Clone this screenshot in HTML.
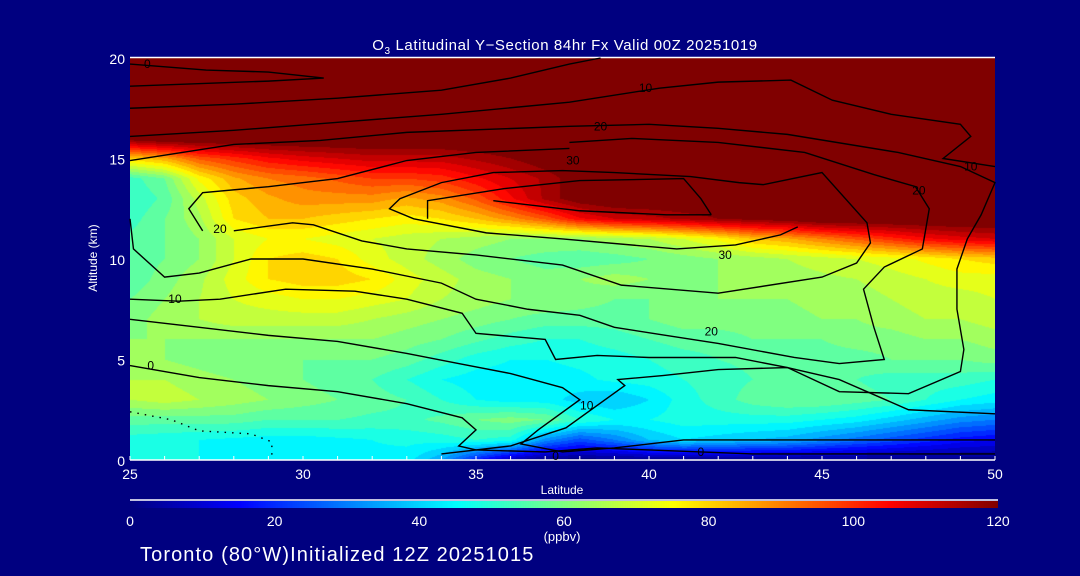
<!DOCTYPE html>
<html><head><meta charset="utf-8">
<style>
body{margin:0;background:#000080;width:1080px;height:576px;overflow:hidden;font-family:"Liberation Sans",sans-serif;}
#root{position:relative;width:1080px;height:576px;background:#000080;}
svg text{fill:#fff;font-family:"Liberation Sans",sans-serif;}
</style></head>
<body>
<div id="root">
<canvas id="heat" width="865" height="402" style="position:absolute;left:130px;top:58px"></canvas>
<canvas id="cbar" width="868" height="7" style="position:absolute;left:130px;top:501px"></canvas>
<svg id="ov" width="1080" height="576" style="position:absolute;left:0;top:0">
<text x="565" y="50" font-size="15" text-anchor="middle" letter-spacing="0.6">O<tspan font-size="10" dy="4">3</tspan><tspan dy="-4"> Latitudinal Y−Section 84hr  Fx Valid 00Z 20251019</tspan></text>
<text x="97" y="258" font-size="12" text-anchor="middle" transform="rotate(-90 97 258)">Altitude (km)</text>
<text x="562" y="494" font-size="12" text-anchor="middle">Latitude</text>
<text x="562" y="541" font-size="13" text-anchor="middle">(ppbv)</text>
<text x="140" y="561" font-size="20" letter-spacing="1.1">Toronto (80°W)Initialized 12Z 20251015</text>
<g id="axes"></g>
<g id="contours"></g>
</svg>
</div>
<script>
const lats=[25,26,27,28,29,30,31,32,33,34,35,36,37,38,39,40,41,42,43,44,45,46,47,48,49,50];
const alts=[0,1,2,3,4,5,6,7,8,9,10,11,12,13,14,15,16,17,18,19,20];
const o3_0=[46,46,46,46,45,45,45,45,44,34,18,6,0,0,0,0,0,0,0,0,0,0,0,0,0,0];
const o3_1=[48,47,46,45,44,44,45,46,47,48,50,48,32,24,30,38,42,40,38,36,32,28,24,20,16,14];
const o3_2=[56,56,56,56,54,54,54,53,53,55,58,60,58,50,46,46,48,48,48,48,46,44,40,36,32,30];
const o3_3=[66,68,66,64,62,60,58,56,54,50,46,44,44,40,38,42,48,52,56,58,58,56,54,50,46,44];
const o3_4=[66,66,64,62,60,58,56,54,50,46,44,44,44,45,47,48,50,52,54,56,56,54,52,52,52,50];
const o3_5=[64,62,60,58,58,58,58,58,56,52,48,46,46,47,48,50,52,54,55,55,56,56,58,58,58,60];
const o3_6=[62,62,62,62,62,62,62,62,60,58,55,52,50,50,52,54,56,56,58,58,58,60,60,62,62,64];
const o3_7=[60,64,66,68,68,68,68,66,64,62,60,58,56,56,56,58,60,60,60,60,62,62,64,66,66,68];
const o3_8=[58,62,66,70,72,74,74,72,70,66,64,62,62,60,58,58,60,62,62,62,64,64,66,68,68,70];
const o3_9=[55,60,65,72,78,80,80,78,72,68,64,62,60,62,64,62,60,62,64,64,65,66,68,70,72,72];
const o3_10=[55,58,62,70,78,80,78,72,68,64,60,58,56,55,56,58,60,62,64,66,68,70,72,75,78,80];
const o3_11=[55,58,62,70,74,74,72,70,68,66,64,62,62,62,64,66,70,75,82,85,90,95,100,105,108,110];
const o3_12=[52,58,65,78,82,82,80,78,76,78,82,88,95,105,110,112,115,118,120,122,125,125,125,125,125,125];
const o3_13=[50,55,68,80,85,88,88,88,85,88,95,105,115,122,125,125,125,125,125,125,125,125,125,125,125,125];
const o3_14=[52,58,75,85,90,92,95,98,98,100,105,110,115,122,125,125,125,125,125,125,125,125,125,125,125,125];
const o3_15=[80,85,95,100,105,108,110,112,112,112,115,118,122,125,125,125,125,125,125,125,125,125,125,125,125,125];
const o3_16=[122,125,125,125,125,125,125,125,125,125,125,125,125,125,125,125,125,125,125,125,125,125,125,125,125,125];
const o3_17=[130,130,130,130,130,130,130,130,130,130,130,130,130,130,130,130,130,130,130,130,130,130,130,130,130,130];
const o3_18=o3_17, o3_19=o3_17, o3_20=o3_17;
const grid=[o3_0,o3_1,o3_2,o3_3,o3_4,o3_5,o3_6,o3_7,o3_8,o3_9,o3_10,o3_11,o3_12,o3_13,o3_14,o3_15,o3_16,o3_17,o3_18,o3_19,o3_20];
const xTicks=[25,30,35,40,45,50];
const yTicks=[0,5,10,15,20];
const cbTicks=[0,20,40,60,80,100,120];
const contourLines=[
 [[25,19.7],[27.2,19.4],[29,19.3],[30.6,19.0],[29,18.85],[25,18.6]],
 [[25,17.5],[28,17.7],[31,18.0],[34,18.4],[36,19.0],[37.7,19.7],[38.6,20]],
 [[25,16.1],[28,16.4],[31,16.8],[34,17.2],[37.7,17.8],[40.3,18.5],[42,18.8],[44.1,18.9],[45.3,17.9],[47,17.2],[49,16.7],[49.3,16.1],[48.5,15.0],[50,14.6]],
 [[25,14.9],[28,15.7],[30.5,15.9],[33,16.3],[37.7,16.6],[40,16.7],[42,16.5],[44,16.2],[47.2,15.3],[49,14.6],[50,13.8],[49.6,12.2],[49.2,11],[48.9,9.5],[48.9,7.5],[49.1,5.5],[49.0,4.4],[47.5,3.3],[45.5,3.4],[44,4.6],[42.5,5.1],[40,5.1],[38.5,5.2],[37.3,5.0],[37,6.0],[35,6.3],[34.6,7.3],[33,8.0],[31.5,8.4],[29.5,8.5],[27.6,8.0],[26.4,7.9],[25,8.0]],
 [[37.7,15.8],[39.5,16.0],[42,15.8],[44.5,15.3],[46.5,14.2],[47.7,13.6],[48.1,12.5],[47.9,10.5],[46.8,9.6],[46.2,8.5],[46.5,6.6],[46.8,5.0],[45.5,4.8],[44.2,5.1],[42,5.8],[40.5,6.2],[39,6.6],[38,7.2],[36.5,7.5],[35,8.0],[34,8.8],[32,9.5],[30,10.0],[28.5,10.0],[27,9.3],[26,9.1],[25.1,10.5],[25,12]],
 [[27.1,11.4],[26.7,12.5],[27.1,13.3],[29,13.6],[31,14.0],[33,14.9],[35,15.3],[37.7,15.5]],
 [[28,11.4],[29.7,11.8],[30.3,11.7],[31.7,10.9],[33,10.5],[35,10.2],[37.5,9.7],[39.2,8.7],[42,8.3],[45,9.1],[46,9.8],[46.4,10.8],[46.3,11.8],[45,14.3],[43.3,13.7],[42.6,13.8],[41.2,14.1],[39,14.3],[37.5,14.4],[35.5,14.3],[34,13.8],[32.8,13.0],[32.5,12.5],[33.2,12.0],[35.3,11.3],[37.5,11.0],[40.8,10.5],[42.5,10.7],[43.8,11.2],[44.3,11.6]],
 [[33.6,12.0],[33.6,12.9],[35.8,13.5],[38,13.9],[41,14.0],[41.5,13.0],[41.8,12.2]],
 [[35.5,12.9],[38,12.4],[40.5,12.2],[41.8,12.2]],
 [[25,7.0],[27,6.6],[29,6.2],[31,5.9],[33,5.3],[34.5,4.8],[36,4.3],[37.5,3.6],[38,3.0],[36.8,1.5],[36.3,0.8],[37.5,0.4],[39,0.6],[41,1.0],[44,1.0],[47,1.0],[50,1.0]],
 [[25,4.7],[27,4.1],[29,3.7],[31,3.4],[33,2.8],[34.6,2.1],[35,1.5],[34.5,0.7],[35,0.5],[37,0.4],[38.5,0.6],[40,0.5],[43,0.3],[46,0.3],[50,0.3]],
 [[34,0.3],[36,0.7],[37.6,1.6],[39.3,3.7],[39.1,4.0],[40.4,4.2],[42,4.5],[44,4.6],[45.5,4.0],[47.5,2.5],[50,2.3]]
];
const dotted=[[25,2.4],[26.2,2.0],[27,1.45],[28.5,1.3],[29.1,0.9],[29.1,0.2]];
const contourLabels=[["0",25.5,19.7],["10",39.9,18.5],["20",38.6,16.6],["30",37.8,14.9],["20",27.6,11.5],["10",26.3,8],["0",25.6,4.7],["10",38.2,2.7],["0",37.3,0.2],["0",41.5,0.4],["30",42.2,10.2],["20",41.8,6.4],["20",47.8,13.4],["10",49.3,14.6]];

const X0=130,X1=995,Y0=460,Y1=58;
const xs=v=>X0+(v-25)/(50-25)*(X1-X0);
const ys=v=>Y0-(v-0)/(20-0)*(Y0-Y1);
function jet(v){
  let t=Math.max(0,Math.min(1,v/120));
  const f=(a)=>Math.max(0,Math.min(1,1.5-Math.abs(4*t-a)));
  return [f(3)*255,f(2)*255,f(1)*255];
}
function sample(lat,alt){
  let i=Math.max(0,Math.min(lats.length-2,Math.floor(lat-lats[0])));
  let j=Math.max(0,Math.min(alts.length-2,Math.floor(alt-alts[0])));
  let fx=Math.max(0,Math.min(1,(lat-lats[i])/(lats[i+1]-lats[i])));
  let fy=Math.max(0,Math.min(1,(alt-alts[j])/(alts[j+1]-alts[j])));
  let a=grid[j][i],b=grid[j][i+1],c=grid[j+1][i],d=grid[j+1][i+1];
  return a*(1-fx)*(1-fy)+b*fx*(1-fy)+c*(1-fx)*fy+d*fx*fy;
}
const hc=document.getElementById('heat').getContext('2d');
const W=865,H=402,img=hc.createImageData(W,H);
for(let py=0;py<H;py++){for(let px=0;px<W;px++){
  const lat=25+(px+0.5)/W*25, alt=20-(py+0.5)/H*20;
  let v=sample(lat,alt); v=Math.round(v/4)*4;
  const c=jet(v),k=(py*W+px)*4;
  img.data[k]=c[0];img.data[k+1]=c[1];img.data[k+2]=c[2];img.data[k+3]=255;}}
hc.putImageData(img,0,0);
const cc=document.getElementById('cbar').getContext('2d');
for(let px=0;px<868;px++){const c=jet(px/868*120);cc.fillStyle=`rgb(${c[0]|0},${c[1]|0},${c[2]|0})`;cc.fillRect(px,0,1,7);}
const NS='http://www.w3.org/2000/svg';
function mk(tag,attrs,parent){const e=document.createElementNS(NS,tag);for(const k in attrs)e.setAttribute(k,attrs[k]);parent.appendChild(e);return e;}
const ax=document.getElementById('axes');
let e=mk('line',{x1:X0,y1:57.5,x2:X1,y2:57.5,stroke:'#fff','stroke-width':1.5},ax);


e=mk('line',{x1:X0,y1:460,x2:X1,y2:460,stroke:'#fff','stroke-width':1.5},ax);


e=mk('line',{x1:X0,y1:500,x2:998,y2:500,stroke:'#fff','stroke-width':1.5},ax);


for(let l=25;l<=50;l++){e=mk('line',{x1:xs(l),y1:460,x2:xs(l),y2:456,stroke:'#fff'},ax);

}
xTicks.forEach(t=>{e=mk('text',{x:xs(t),y:479,'font-size':14,'text-anchor':'middle'},ax);e.textContent=t;

});
yTicks.forEach(t=>{e=mk('text',{x:125,y:ys(t)+6,'font-size':14,'text-anchor':'end'},ax);e.textContent=t;

});
cbTicks.forEach(t=>{e=mk('text',{x:130+t/120*868,y:526,'font-size':14,'text-anchor':'middle'},ax);e.textContent=t;

});
const cg=document.getElementById('contours');
contourLines.forEach(line=>{e=mk('polyline',{points:line.map(p=>xs(p[0])+','+ys(p[1])).join(' '),fill:'none',stroke:'#000','stroke-width':1.4},cg);

});
e=mk('polyline',{points:dotted.map(p=>xs(p[0])+','+ys(p[1])).join(' '),fill:'none',stroke:'#000','stroke-width':1.4,'stroke-dasharray':'1.5 6'},cg);


contourLabels.forEach(l=>{e=mk('text',{x:xs(l[1]),y:ys(l[2])+4,'font-size':12,'text-anchor':'middle',style:'fill:#000'},cg);e.textContent=l[0];

});
</script>
</body></html>
